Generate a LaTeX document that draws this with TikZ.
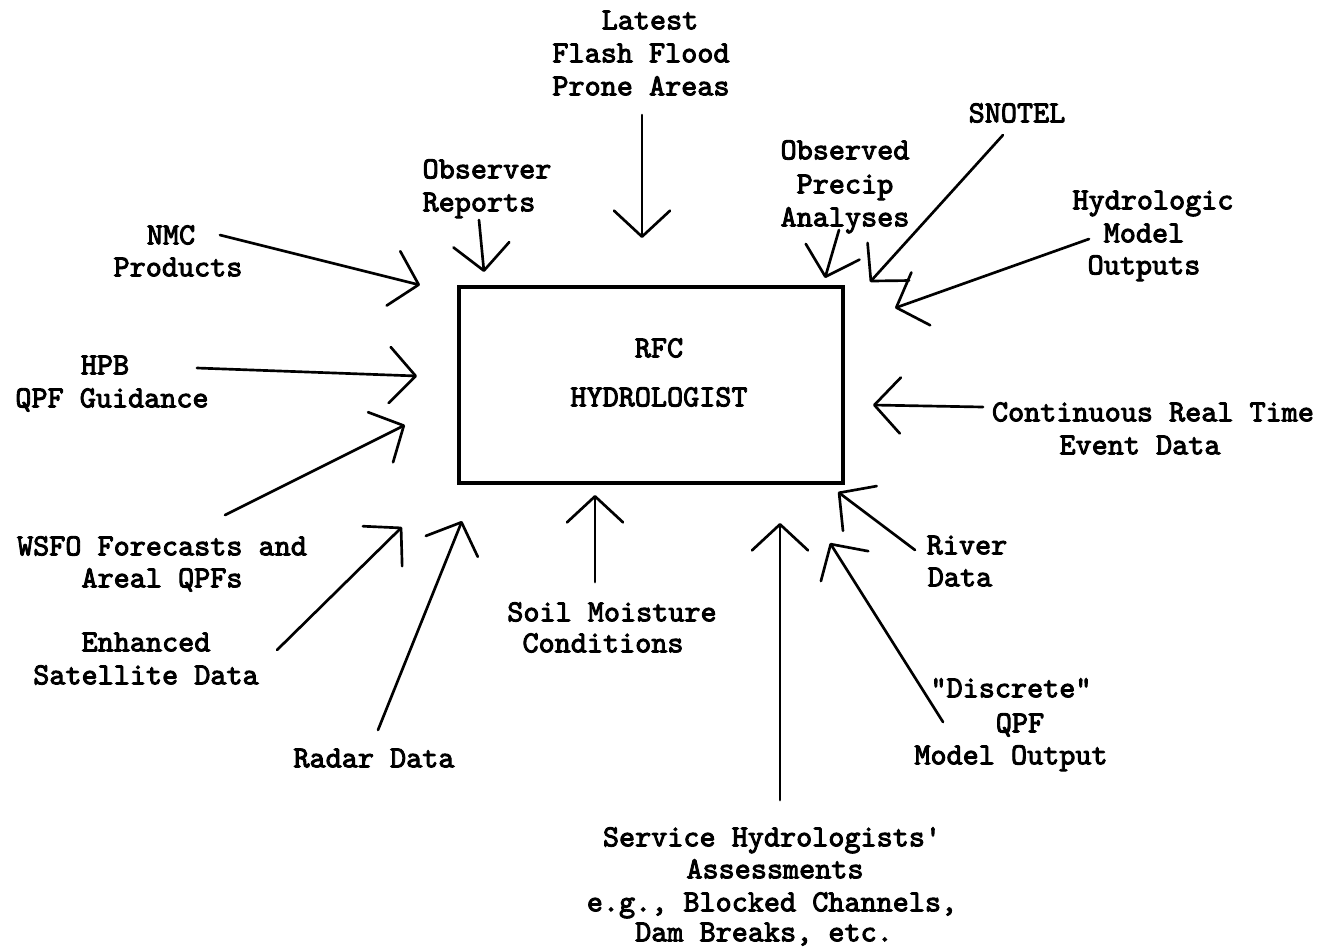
\documentclass[tikz,border=0pt]{standalone}
\usepackage{fontspec}
\newfontfamily\twfont[FakeBold=3]{lmmono10-regular.otf}
\usetikzlibrary{arrows.meta}
\begin{document}
\begin{tikzpicture}[x=0.75pt,y=-0.75pt,
  lbl/.style={font=\fontsize{23}{28}\selectfont\twfont, inner sep=0pt, text height=14pt, text depth=0pt, anchor=center},
  feed/.style={line width=2pt, line cap=round, -{Straight Barb[length=19.5pt,width=42pt,line cap=round,line join=round]}},
  hub/.style={draw, line width=3pt, minimum width=288pt, minimum height=147pt, inner sep=0pt}
]
\useasboundingbox (0,0) rectangle (1318,947);

% central box
\node[hub] (box) at (651,385) {};
\node[lbl] (rfc) at (659,348) {RFC};
\node[lbl] (hyd) at (659,397) {HYDROLOGIST};

% labels
\node[lbl] (lat1) at (650,20) {Latest};
\node[lbl] (lat2) at (641,53) {Flash Flood};
\node[lbl] (lat3) at (641,86) {Prone Areas};

\node[lbl] (obs1) at (487,169) {Observer};
\node[lbl] (obs2) at (479,202) {Reports};

\node[lbl] (opa1) at (845,150) {Observed};
\node[lbl] (opa2) at (845,184) {Precip};
\node[lbl] (opa3) at (845,217) {Analyses};

\node[lbl] (sno) at (1017,113) {SNOTEL};

\node[lbl] (hmo1) at (1153,200) {Hydrologic};
\node[lbl] (hmo2) at (1144,233) {Model};
\node[lbl] (hmo3) at (1144,265) {Outputs};

\node[lbl] (nmc1) at (171,235) {NMC};
\node[lbl] (nmc2) at (178,267) {Products};

\node[lbl] (hpb1) at (105,365) {HPB};
\node[lbl] (hpb2) at (112,398) {QPF Guidance};

\node[lbl] (wsf1) at (162,546) {WSFO Forecasts and};
\node[lbl] (wsf2) at (162,578) {Areal QPFs};

\node[lbl] (enh1) at (146,642) {Enhanced};
\node[lbl] (enh2) at (146,675) {Satellite Data};

\node[lbl] (rad) at (374,758) {Radar Data};

\node[lbl] (soi1) at (612,612) {Soil Moisture};
\node[lbl] (soi2) at (603,643) {Conditions};

\node[lbl] (ser1) at (772,837) {Service Hydrologists\textquotesingle};
\node[lbl] (ser2) at (775,869) {Assessments};
\node[lbl] (ser3) at (772,902) {e.g., Blocked Channels,};
\node[lbl] (ser4) at (764,932) {Dam Breaks, etc.};

\node[lbl] (riv1) at (967,545) {River};
\node[lbl] (riv2) at (960,577) {Data};

\node[lbl] (dis1) at (1011,688) {\textquotedbl Discrete\textquotedbl};
\node[lbl] (dis2) at (1020,723) {QPF};
\node[lbl] (dis3) at (1011,755) {Model Output};

\node[lbl] (con1) at (1153,412) {Continuous Real Time};
\node[lbl] (con2) at (1140,445) {Event Data};

% arrow ends
\coordinate (sLat) at (642,115);  \coordinate (tLat) at (642,238);
\coordinate (sObs) at (479,220);  \coordinate (tObs) at (484,272);
\coordinate (sOpa) at (839,230);  \coordinate (tOpa) at (825,278);
\coordinate (sSno) at (1003,135); \coordinate (tSno) at (870,282);
\coordinate (sHmo) at (1089,239); \coordinate (tHmo) at (895,308);
\coordinate (sNmc) at (220,235);  \coordinate (tNmc) at (420,285);
\coordinate (sHpb) at (197,368);  \coordinate (tHpb) at (417,376);
\coordinate (sWsf) at (225,515);  \coordinate (tWsf) at (405,425);
\coordinate (sEnh) at (277,650);  \coordinate (tEnh) at (402,527);
\coordinate (sRad) at (378,730);  \coordinate (tRad) at (462,521);
\coordinate (sSoi) at (595,582);  \coordinate (tSoi) at (595,495);
\coordinate (sSer) at (780,800);  \coordinate (tSer) at (780,523);
\coordinate (sRiv) at (915,550);  \coordinate (tRiv) at (838,492);
\coordinate (sDis) at (943,722);  \coordinate (tDis) at (830,543);
\coordinate (sCon) at (983,407);  \coordinate (tCon) at (873,405);

\foreach \n in {Lat,Obs,Opa,Sno,Hmo,Nmc,Hpb,Wsf,Enh,Rad,Soi,Ser,Riv,Dis,Con}
  \draw[feed] (s\n) -- (t\n);
\end{tikzpicture}
\end{document}
